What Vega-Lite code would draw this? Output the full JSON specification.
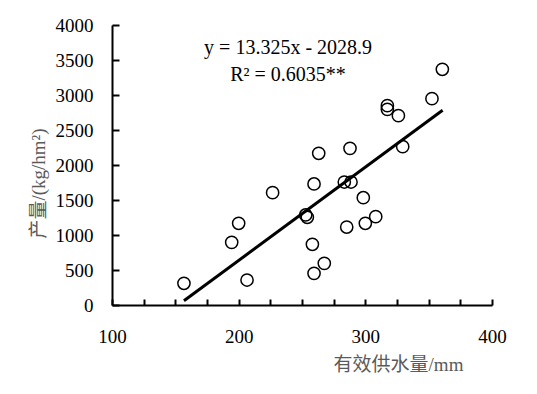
{
  "$schema": "https://vega.github.io/schema/vega-lite/v6.json",
  "width": 380,
  "height": 280,
  "autosize": {"type": "none"},
  "padding": {"left": 112, "top": 25, "right": 45, "bottom": 89},
  "background": "white",
  "config": {
    "view": {"stroke": null},
    "font": "Liberation Serif",
    "axis": {"grid": false, "domainColor": "black", "tickColor": "black", "domainWidth": 2, "tickWidth": 2, "labelFlush": false,
             "labelFont": "Liberation Serif", "labelFontSize": 19, "labelColor": "black",
             "titleFont": "Liberation Serif, Noto Sans CJK SC", "titleFontSize": 19, "titleFontWeight": "normal", "titleColor": "#5a5a5a"}
  },
  "resolve": {"axis": {"x": "independent", "y": "independent"}},
  "datasets": {
    "pts": [
      {"x": 156.8, "y": 310},
      {"x": 194.5, "y": 895},
      {"x": 200.0, "y": 1167},
      {"x": 206.6, "y": 357},
      {"x": 226.8, "y": 1605},
      {"x": 252.9, "y": 1286},
      {"x": 254.2, "y": 1253},
      {"x": 259.5, "y": 1729},
      {"x": 258.2, "y": 867},
      {"x": 259.5, "y": 452},
      {"x": 263.2, "y": 2167},
      {"x": 267.6, "y": 595},
      {"x": 283.4, "y": 1757},
      {"x": 288.7, "y": 1757},
      {"x": 285.3, "y": 1114},
      {"x": 287.9, "y": 2238},
      {"x": 298.4, "y": 1533},
      {"x": 300.0, "y": 1167},
      {"x": 308.2, "y": 1262},
      {"x": 317.4, "y": 2848},
      {"x": 317.4, "y": 2795},
      {"x": 326.1, "y": 2705},
      {"x": 329.5, "y": 2262},
      {"x": 352.6, "y": 2948},
      {"x": 360.8, "y": 3367}
    ],
    "fit": [
      {"x": 156.8, "y": 60.5},
      {"x": 361.0, "y": 2781.4}
    ],
    "eq": [
      {"x": 239, "y": 3671, "label": "y = 13.325x - 2028.9"},
      {"x": 239, "y": 3286, "label": "R² = 0.6035**"}
    ]
  },
  "layer": [
    {
      "data": {"name": "fit"},
      "mark": {"type": "line", "color": "black", "strokeWidth": 3},
      "encoding": {
        "x": {"field": "x", "type": "quantitative", "scale": {"domain": [100, 400], "nice": false},
              "axis": {"orient": "bottom", "values": [100,200,300,400], "ticks": false, "labelPadding": 22, "labelBaseline": "top",
                       "title": "有效供水量/mm", "titleX": 286, "titleY": 59, "titleAlign": "center", "titleBaseline": "middle", "titleAnchor": null}},
        "y": {"field": "y", "type": "quantitative", "scale": {"domain": [0, 4000], "nice": false},
              "axis": {"orient": "left", "values": [0,500,1000,1500,2000,2500,3000,3500,4000], "format": "d", "ticks": false, "labelPadding": 19,
                       "title": "产量/(kg/hm²)", "titleX": -74, "titleY": 158, "titleAlign": "center", "titleBaseline": "middle", "titleAngle": 270, "titleAnchor": null}}
      }
    },
    {
      "data": {"name": "pts"},
      "mark": {"type": "point", "shape": "circle", "filled": false, "stroke": "black", "strokeWidth": 1.5, "size": 150, "opacity": 1},
      "encoding": {
        "x": {"field": "x", "type": "quantitative",
              "axis": {"orient": "bottom", "offset": -6, "tickSize": 6, "domain": false, "labels": false, "title": null,
                       "values": [100,125,150,175,200,225,250,275,300,325,350,375,400]}},
        "y": {"field": "y", "type": "quantitative",
              "axis": {"orient": "left", "offset": -7, "tickSize": 7, "domain": false, "labels": false, "title": null,
                       "values": [0,500,1000,1500,2000,2500,3000,3500,4000]}}
      }
    },
    {
      "data": {"name": "eq"},
      "mark": {"type": "text", "font": "Liberation Serif", "fontSize": 20, "align": "center", "baseline": "middle", "color": "black"},
      "encoding": {
        "x": {"field": "x", "type": "quantitative", "axis": null},
        "y": {"field": "y", "type": "quantitative", "axis": null},
        "text": {"field": "label"}
      }
    }
  ]
}
